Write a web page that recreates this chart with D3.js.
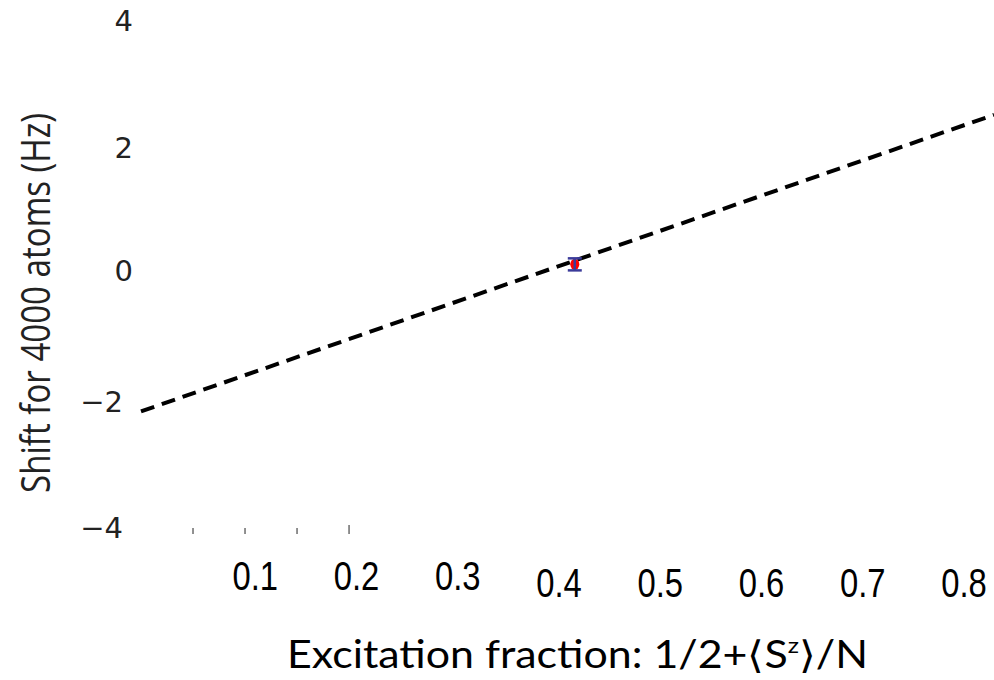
<!DOCTYPE html>
<html>
<head>
<meta charset="utf-8">
<script src="https://cdn.jsdelivr.net/npm/d3@7"></script>
<style>
  body { margin: 0; background: #fff; }
  svg { display: block; }
</style>
</head>
<body>
<div id="chart"></div>
<script>
// Shift vs excitation fraction
const yTicks = [-4, -2, 0, 2, 4];
const yTickLabels = ['\u22124', '\u22122', '0', '2', '4'];
const xTickLabels = [0.1, 0.2, 0.3, 0.4, 0.5, 0.6, 0.7, 0.8];
const xMinorTicks = [0.05, 0.1, 0.15, 0.2];

// dashed fit line (two ends)
const fitX = [0, 0.82];
const fitY = [-2.16, 2.52];

// measured point with error bar
const pointX = [0.417];
const pointY = [0.16];
const pointErr = [0.095];

const width = 994, height = 680;

const svg = d3.select('#chart').append('svg')
  .attr('width', width)
  .attr('height', height);

const x = d3.scaleLinear().domain([0, 0.82]).range([141, 994]);
// the tick label strip sits a little off the plot's own scale
const xLabel = d3.scaleLinear().domain([0, 0.8]).range([154, 964]);
const y = d3.scaleLinear().domain([-4, 4]).range([528, 21]);

// y tick labels
svg.append('g')
  .selectAll('text')
  .data(yTicks)
  .enter()
  .append('text')
  .attr('x', d => d < 0 ? 123 : 133)
  .attr('y', d => y(d) - (d === 0 ? 4 : 0))
  .attr('dy', '0.36em')
  .attr('text-anchor', 'end')
  .attr('font-family', 'DejaVu Sans')
  .attr('font-size', 29)
  .attr('fill', '#222')
  .text((d, i) => yTickLabels[i]);

// y axis title
svg.append('text')
  .attr('transform', 'translate(50,303) rotate(-90)')
  .attr('text-anchor', 'middle')
  .attr('font-family', 'Open Sans, sans-serif')
  .attr('font-size', 40)
  .attr('textLength', 380)
  .attr('lengthAdjust', 'spacingAndGlyphs')
  .attr('fill', '#222')
  .text('Shift for 4000 atoms (Hz)');

// little minor ticks near the bottom-left
svg.append('g')
  .selectAll('line')
  .data(xMinorTicks)
  .enter()
  .append('line')
  .attr('x1', d => x(d))
  .attr('x2', d => x(d))
  .attr('y1', (d, i) => i === xMinorTicks.length - 1 ? 525 : 528)
  .attr('y2', 534)
  .attr('stroke', '#555')
  .attr('stroke-width', 1.3);

// x tick labels (narrow)
svg.append('g')
  .selectAll('text')
  .data(xTickLabels)
  .enter()
  .append('text')
  .attr('transform', d => `translate(${xLabel(d)},${d > 0.35 ? 597 : 590}) scale(0.8,1)`)
  .attr('text-anchor', 'middle')
  .attr('font-family', 'Liberation Sans, sans-serif')
  .attr('font-size', 41)
  .attr('fill', '#000')
  .text(d => d.toFixed(1));

// x axis title
const title = svg.append('text')
  .attr('x', 287)
  .attr('y', 668)
  .attr('text-anchor', 'start')
  .attr('font-family', 'Lato, Open Sans, sans-serif')
  .attr('font-size', 38)
  .attr('textLength', 581)
  .attr('lengthAdjust', 'spacingAndGlyphs')
  .attr('fill', '#000');
title.append('tspan').text('Excitation fraction: 1/2+\u27E8S');
title.append('tspan').attr('font-size', 22).attr('dy', -15).text('z');
title.append('tspan').attr('dy', 15).text('\u27E9/N');

// dashed fit line
const fit = fitX.map((d, i) => [d, fitY[i]]);
svg.append('path')
  .datum(fit)
  .attr('d', d3.line().x(d => x(d[0])).y(d => y(d[1])))
  .attr('fill', 'none')
  .attr('stroke', '#000')
  .attr('stroke-width', 4)
  .attr('stroke-dasharray', '14,8');

// data point
const pts = pointX.map((d, i) => ({ x: d, y: pointY[i], e: pointErr[i] }));
const pg = svg.append('g');
pg.selectAll('ellipse')
  .data(pts)
  .enter()
  .append('ellipse')
  .attr('cx', d => x(d.x))
  .attr('cy', d => y(d.y))
  .attr('rx', 4.5)
  .attr('ry', 5.5)
  .attr('fill', '#ff0000');
pts.forEach(d => {
  const cx = x(d.x), y0 = y(d.y - d.e), y1 = y(d.y + d.e);
  pg.append('line').attr('x1', cx).attr('x2', cx).attr('y1', y0).attr('y2', y1)
    .attr('stroke', '#3b3b9a').attr('stroke-width', 2.5);
  [y0, y1].forEach(yy => {
    pg.append('line').attr('x1', cx - 7).attr('x2', cx + 7).attr('y1', yy).attr('y2', yy)
      .attr('stroke', '#3b3b9a').attr('stroke-width', 2.5);
  });
});
</script>
</body>
</html>
